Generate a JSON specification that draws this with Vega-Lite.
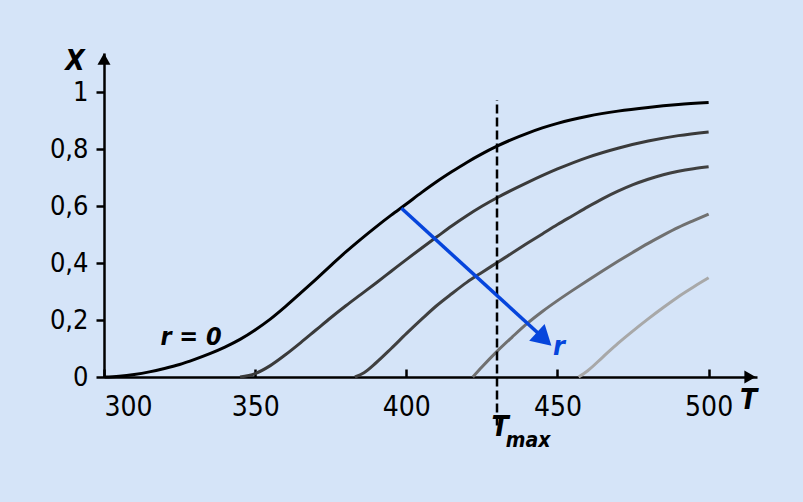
{
  "$schema": "https://vega.github.io/schema/vega-lite/v6.json",
  "width": 653,
  "height": 324,
  "autosize": {"type": "none"},
  "padding": {"left": 104, "top": 53, "right": 46, "bottom": 125},
  "background": "#d5e4f8",
  "view": {"stroke": null},
  "config": {
    "font": "DejaVu Sans Condensed, Liberation Sans Narrow, Open Sans, sans-serif"
  },
  "datasets": {
    "curves": [
      {"c": "r0", "T": 300, "X": 0.0},
      {"c": "r0", "T": 305, "X": 0.003},
      {"c": "r0", "T": 310, "X": 0.009},
      {"c": "r0", "T": 315, "X": 0.018},
      {"c": "r0", "T": 320, "X": 0.03},
      {"c": "r0", "T": 325, "X": 0.044},
      {"c": "r0", "T": 330, "X": 0.062},
      {"c": "r0", "T": 335, "X": 0.082},
      {"c": "r0", "T": 340, "X": 0.105},
      {"c": "r0", "T": 345, "X": 0.132},
      {"c": "r0", "T": 350, "X": 0.165},
      {"c": "r0", "T": 355, "X": 0.203},
      {"c": "r0", "T": 360, "X": 0.247},
      {"c": "r0", "T": 365, "X": 0.294},
      {"c": "r0", "T": 370, "X": 0.342},
      {"c": "r0", "T": 375, "X": 0.391},
      {"c": "r0", "T": 380, "X": 0.439},
      {"c": "r0", "T": 385, "X": 0.484},
      {"c": "r0", "T": 390, "X": 0.527},
      {"c": "r0", "T": 395, "X": 0.568},
      {"c": "r0", "T": 400, "X": 0.607},
      {"c": "r0", "T": 405, "X": 0.647},
      {"c": "r0", "T": 410, "X": 0.685},
      {"c": "r0", "T": 415, "X": 0.72},
      {"c": "r0", "T": 420, "X": 0.753},
      {"c": "r0", "T": 425, "X": 0.783},
      {"c": "r0", "T": 430, "X": 0.81},
      {"c": "r0", "T": 435, "X": 0.834},
      {"c": "r0", "T": 440, "X": 0.855},
      {"c": "r0", "T": 445, "X": 0.874},
      {"c": "r0", "T": 450, "X": 0.89},
      {"c": "r0", "T": 460, "X": 0.915},
      {"c": "r0", "T": 470, "X": 0.933},
      {"c": "r0", "T": 480, "X": 0.946},
      {"c": "r0", "T": 490, "X": 0.956},
      {"c": "r0", "T": 500, "X": 0.963},
      {"c": "r1", "T": 345, "X": 0.0},
      {"c": "r1", "T": 350, "X": 0.012},
      {"c": "r1", "T": 355, "X": 0.04},
      {"c": "r1", "T": 360, "X": 0.078},
      {"c": "r1", "T": 365, "X": 0.12},
      {"c": "r1", "T": 370, "X": 0.164},
      {"c": "r1", "T": 375, "X": 0.208},
      {"c": "r1", "T": 380, "X": 0.25},
      {"c": "r1", "T": 385, "X": 0.29},
      {"c": "r1", "T": 390, "X": 0.33},
      {"c": "r1", "T": 395, "X": 0.371},
      {"c": "r1", "T": 400, "X": 0.412},
      {"c": "r1", "T": 405, "X": 0.452},
      {"c": "r1", "T": 410, "X": 0.491},
      {"c": "r1", "T": 415, "X": 0.53},
      {"c": "r1", "T": 420, "X": 0.566},
      {"c": "r1", "T": 425, "X": 0.599},
      {"c": "r1", "T": 430, "X": 0.629},
      {"c": "r1", "T": 440, "X": 0.682},
      {"c": "r1", "T": 450, "X": 0.73},
      {"c": "r1", "T": 460, "X": 0.771},
      {"c": "r1", "T": 470, "X": 0.803},
      {"c": "r1", "T": 480, "X": 0.828},
      {"c": "r1", "T": 490, "X": 0.847},
      {"c": "r1", "T": 500, "X": 0.86},
      {"c": "r2", "T": 383, "X": 0.0},
      {"c": "r2", "T": 386, "X": 0.015},
      {"c": "r2", "T": 390, "X": 0.05},
      {"c": "r2", "T": 395, "X": 0.1},
      {"c": "r2", "T": 400, "X": 0.152},
      {"c": "r2", "T": 405, "X": 0.202},
      {"c": "r2", "T": 410, "X": 0.25},
      {"c": "r2", "T": 415, "X": 0.292},
      {"c": "r2", "T": 420, "X": 0.332},
      {"c": "r2", "T": 425, "X": 0.367},
      {"c": "r2", "T": 430, "X": 0.401},
      {"c": "r2", "T": 435, "X": 0.435},
      {"c": "r2", "T": 440, "X": 0.469},
      {"c": "r2", "T": 445, "X": 0.502},
      {"c": "r2", "T": 450, "X": 0.535},
      {"c": "r2", "T": 455, "X": 0.566},
      {"c": "r2", "T": 460, "X": 0.597},
      {"c": "r2", "T": 465, "X": 0.626},
      {"c": "r2", "T": 470, "X": 0.652},
      {"c": "r2", "T": 475, "X": 0.675},
      {"c": "r2", "T": 480, "X": 0.694},
      {"c": "r2", "T": 485, "X": 0.71},
      {"c": "r2", "T": 490, "X": 0.722},
      {"c": "r2", "T": 495, "X": 0.731},
      {"c": "r2", "T": 500, "X": 0.738},
      {"c": "r3", "T": 422, "X": 0.0},
      {"c": "r3", "T": 425, "X": 0.035},
      {"c": "r3", "T": 430, "X": 0.09},
      {"c": "r3", "T": 435, "X": 0.14},
      {"c": "r3", "T": 440, "X": 0.188},
      {"c": "r3", "T": 445, "X": 0.23},
      {"c": "r3", "T": 450, "X": 0.268},
      {"c": "r3", "T": 455, "X": 0.304},
      {"c": "r3", "T": 460, "X": 0.339},
      {"c": "r3", "T": 465, "X": 0.373},
      {"c": "r3", "T": 470, "X": 0.406},
      {"c": "r3", "T": 475, "X": 0.438},
      {"c": "r3", "T": 480, "X": 0.469},
      {"c": "r3", "T": 485, "X": 0.498},
      {"c": "r3", "T": 490, "X": 0.525},
      {"c": "r3", "T": 495, "X": 0.549},
      {"c": "r3", "T": 500, "X": 0.572},
      {"c": "r4", "T": 457, "X": 0.0},
      {"c": "r4", "T": 460, "X": 0.022},
      {"c": "r4", "T": 465, "X": 0.07},
      {"c": "r4", "T": 470, "X": 0.118},
      {"c": "r4", "T": 475, "X": 0.162},
      {"c": "r4", "T": 480, "X": 0.204},
      {"c": "r4", "T": 485, "X": 0.244},
      {"c": "r4", "T": 490, "X": 0.282},
      {"c": "r4", "T": 495, "X": 0.316},
      {"c": "r4", "T": 500, "X": 0.348}
    ]
  },
  "layer": [
    {
      "data": {"name": "curves"},
      "mark": {"type": "line", "strokeWidth": 3, "interpolate": "monotone"},
      "encoding": {
        "x": {
          "field": "T", "type": "quantitative",
          "scale": {"domain": [300, 516], "nice": false, "zero": false},
          "axis": {
            "title": null, "grid": false,
            "values": [300, 350, 400, 450, 500],
            "domainColor": "black", "domainWidth": 2.5,
            "tickColor": "black", "tickWidth": 2.5, "tickSize": -8,
            "labelFontSize": 28, "labelColor": "black", "labelPadding": 24,
            "labelFont": "DejaVu Sans Condensed, Liberation Sans Narrow, Open Sans, sans-serif"
          }
        },
        "y": {
          "field": "X", "type": "quantitative",
          "scale": {"domain": [0, 1.137], "nice": false},
          "axis": {
            "title": null, "grid": false,
            "values": [0, 0.2, 0.4, 0.6, 0.8, 1],
            "format": "~g",
            "labelExpr": "replace(datum.label, '.', ',')",
            "domainColor": "black", "domainWidth": 2.5,
            "tickColor": "black", "tickWidth": 2.5, "tickSize": 8,
            "labelFontSize": 27, "labelColor": "black", "labelPadding": 8,
            "labelFont": "DejaVu Sans Condensed, Liberation Sans Narrow, Open Sans, sans-serif"
          }
        },
        "color": {
          "field": "c", "type": "nominal", "legend": null,
          "scale": {"domain": ["r0", "r1", "r2", "r3", "r4"], "range": ["#000000", "#3a3a3a", "#404040", "#707070", "#a8a8a8"]}
        }
      }
    },
    {
      "data": {"values": [{"T": 430, "Y1": -0.17, "Y2": 0.972}]},
      "mark": {"type": "rule", "strokeWidth": 2.5, "strokeDash": [9, 4], "color": "black"},
      "encoding": {
        "x": {"field": "T", "type": "quantitative"},
        "y": {"field": "Y1", "type": "quantitative"},
        "y2": {"field": "Y2"}
      }
    },
    {
      "data": {"values": [{"T": 398.4, "X": 0.592, "T2": 444, "X2": 0.15}]},
      "mark": {"type": "rule", "strokeWidth": 3.5, "color": "#0645dc"},
      "encoding": {
        "x": {"field": "T", "type": "quantitative"},
        "y": {"field": "X", "type": "quantitative"},
        "x2": {"field": "T2"},
        "y2": {"field": "X2"}
      }
    },
    {
      "data": {"values": [{"T": 445.6, "X": 0.133}]},
      "mark": {"type": "point", "shape": "triangle-up", "angle": 132.5, "size": 520, "filled": true, "color": "#0645dc", "opacity": 1},
      "encoding": {
        "x": {"field": "T", "type": "quantitative"},
        "y": {"field": "X", "type": "quantitative"}
      }
    },
    {
      "data": {"values": [{"T": 513.7, "X": 0}]},
      "mark": {"type": "point", "shape": "triangle-right", "size": 170, "filled": true, "color": "black", "opacity": 1},
      "encoding": {
        "x": {"field": "T", "type": "quantitative"},
        "y": {"field": "X", "type": "quantitative"}
      }
    },
    {
      "data": {"values": [{"T": 300, "X": 1.116}]},
      "mark": {"type": "point", "shape": "triangle-up", "size": 170, "filled": true, "color": "black", "opacity": 1},
      "encoding": {
        "x": {"field": "T", "type": "quantitative"},
        "y": {"field": "X", "type": "quantitative"}
      }
    },
    {
      "data": {"values": [
        {"T": 290.4, "X": 1.107, "label": "X"},
        {"T": 513.2, "X": -0.084, "label": "T"},
        {"T": 431, "X": -0.179, "label": "T"}
      ]},
      "mark": {"type": "text", "fontSize": 28, "fontStyle": "italic", "fontWeight": "bold", "color": "black", "align": "center", "baseline": "middle"},
      "encoding": {
        "x": {"field": "T", "type": "quantitative"},
        "y": {"field": "X", "type": "quantitative"},
        "text": {"field": "label"}
      }
    },
    {
      "data": {"values": [{"T": 440.3, "X": -0.225, "label": "max"}]},
      "mark": {"type": "text", "fontSize": 21, "fontStyle": "italic", "fontWeight": "bold", "color": "black", "align": "center", "baseline": "middle"},
      "encoding": {
        "x": {"field": "T", "type": "quantitative"},
        "y": {"field": "X", "type": "quantitative"},
        "text": {"field": "label"}
      }
    },
    {
      "data": {"values": [{"T": 328.8, "X": 0.142, "label": "r = 0"}]},
      "mark": {"type": "text", "fontSize": 25, "fontStyle": "italic", "fontWeight": "bold", "color": "black", "align": "center", "baseline": "middle"},
      "encoding": {
        "x": {"field": "T", "type": "quantitative"},
        "y": {"field": "X", "type": "quantitative"},
        "text": {"field": "label"}
      }
    },
    {
      "data": {"values": [{"T": 450.5, "X": 0.106, "label": "r"}]},
      "mark": {"type": "text", "fontSize": 27, "fontStyle": "italic", "fontWeight": "bold", "color": "#0645dc", "align": "center", "baseline": "middle"},
      "encoding": {
        "x": {"field": "T", "type": "quantitative"},
        "y": {"field": "X", "type": "quantitative"},
        "text": {"field": "label"}
      }
    }
  ]
}
